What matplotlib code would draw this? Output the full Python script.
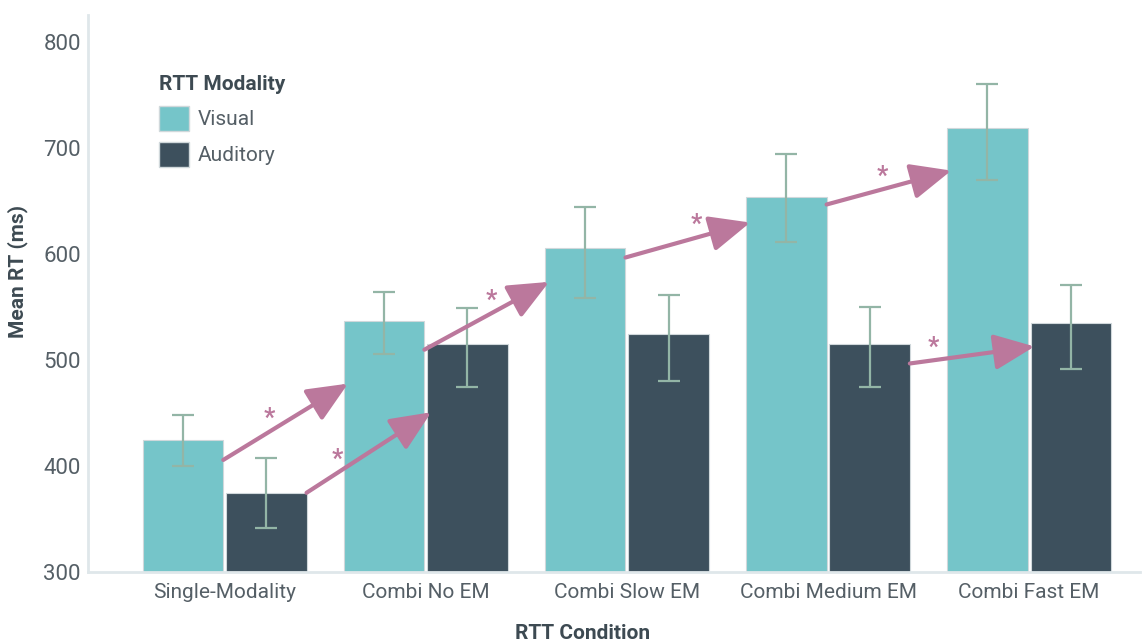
import matplotlib
matplotlib.use("Agg")
import matplotlib.pyplot as plt
from matplotlib.patches import Patch
import numpy as np

plt.rcParams['font.family'] = ['Roboto', 'DejaVu Sans']

conditions = ['Single-Modality', 'Combi No EM', 'Combi Slow EM', 'Combi Medium EM', 'Combi Fast EM']
visual_mean = [425, 537, 606, 654, 719]
visual_lo = [400, 506, 559, 612, 670]
visual_hi = [448, 564, 645, 695, 761]
auditory_mean = [375, 515, 525, 515, 535]
auditory_lo = [342, 475, 480, 475, 492]
auditory_hi = [408, 549, 562, 550, 571]

# significant increases: (from group, from series) -> (to group, to series)
# series 0 = visual, 1 = auditory; y values where the arrow starts / ends
arrow_from = [(0, 0), (0, 1), (1, 0), (2, 0), (3, 0), (3, 1)]
arrow_to = [(1, 0), (1, 1), (2, 0), (3, 0), (4, 0), (4, 1)]
arrow_y0 = [406, 375, 510, 597, 647, 497]
arrow_y1 = [478, 451, 574, 630, 679, 513]
star_pos = [0.37, 0.25, 0.54, 0.57, 0.45, 0.19]

c_vis = '#75c5c9'
c_aud = '#3d505d'
c_err = '#93b5a6'
c_arrow = '#bb789c'
c_text = '#555f66'
c_label = '#3d4a52'

fig = plt.figure(figsize=(11.42, 6.43), dpi=100)
ax = fig.add_axes([0.077, 0.110, 0.921, 0.867])

x = np.arange(len(conditions))
off = 0.207
w = 0.40

means = [visual_mean, auditory_mean]
los = [visual_lo, auditory_lo]
his = [visual_hi, auditory_hi]
cols = [c_vis, c_aud]
for s in range(2):
    xs = x + (-off if s == 0 else off)
    m = np.array(means[s])
    ax.bar(xs, m - 300, bottom=300, width=w, color=cols[s], edgecolor='#d0d8db', linewidth=0.8, zorder=2)
    yerr = [m - np.array(los[s]), np.array(his[s]) - m]
    ax.errorbar(xs, m, yerr=yerr, fmt='none', ecolor=c_err, elinewidth=1.6, capsize=8, capthick=1.6, zorder=3)

for (g0, s0), (g1, s1), y0, y1, t in zip(arrow_from, arrow_to, arrow_y0, arrow_y1, star_pos):
    x0 = g0 + (-off if s0 == 0 else off) + w / 2
    x1 = g1 + (-off if s1 == 0 else off) - w / 2 + 0.02
    ax.annotate('', xy=(x1, y1), xytext=(x0, y0),
                arrowprops=dict(arrowstyle='-|>,head_length=1.25,head_width=0.55', mutation_scale=20,
                                color=c_arrow, lw=3, shrinkA=0, shrinkB=0), zorder=4)
    sx = x0 + t * (x1 - x0)
    sy = y0 + t * (y1 - y0)
    ax.annotate('*', xy=(sx, sy), xytext=(0, 9), textcoords='offset points',
                ha='center', va='center', fontsize=18, color=c_arrow, fontweight='bold')

ax.set_xlim(-0.68, 4.55)
ax.set_ylim(300, 826)
ax.set_yticks([300, 400, 500, 600, 700, 800])
ax.set_xticks(x)
ax.set_xticklabels(conditions)
ax.tick_params(length=0, labelsize=15, colors=c_text, pad=8)
ax.tick_params(axis='y', labelsize=16, pad=5)

for side in ['top', 'right']:
    ax.spines[side].set_visible(False)
for side in ['left', 'bottom']:
    ax.spines[side].set_color('#dfe7ea')
    ax.spines[side].set_linewidth(2)

ax.set_ylabel('Mean RT (ms)', fontsize=15, fontweight='bold', color=c_label)
ax.set_xlabel('RTT Condition', fontsize=15, fontweight='bold', color=c_label)
ax.yaxis.set_label_coords(-0.057, 0.539)
ax.xaxis.set_label_coords(0.47, -0.093)

handles = [Patch(facecolor=c_vis, edgecolor='#d0d8db'), Patch(facecolor=c_aud, edgecolor='#d0d8db')]
leg = ax.legend(handles, ['Visual', 'Auditory'], title='RTT Modality', loc='upper left',
                bbox_to_anchor=(0.05, 0.925), frameon=False, fontsize=15,
                title_fontproperties={'weight': 'bold', 'size': 15},
                handlelength=1.45, handleheight=1.45, labelspacing=0.55, handletextpad=0.4,
                alignment='left')
leg.get_title().set_color(c_label)
for txt in leg.get_texts():
    txt.set_color(c_text)

fig.savefig('out.png', dpi=100)
